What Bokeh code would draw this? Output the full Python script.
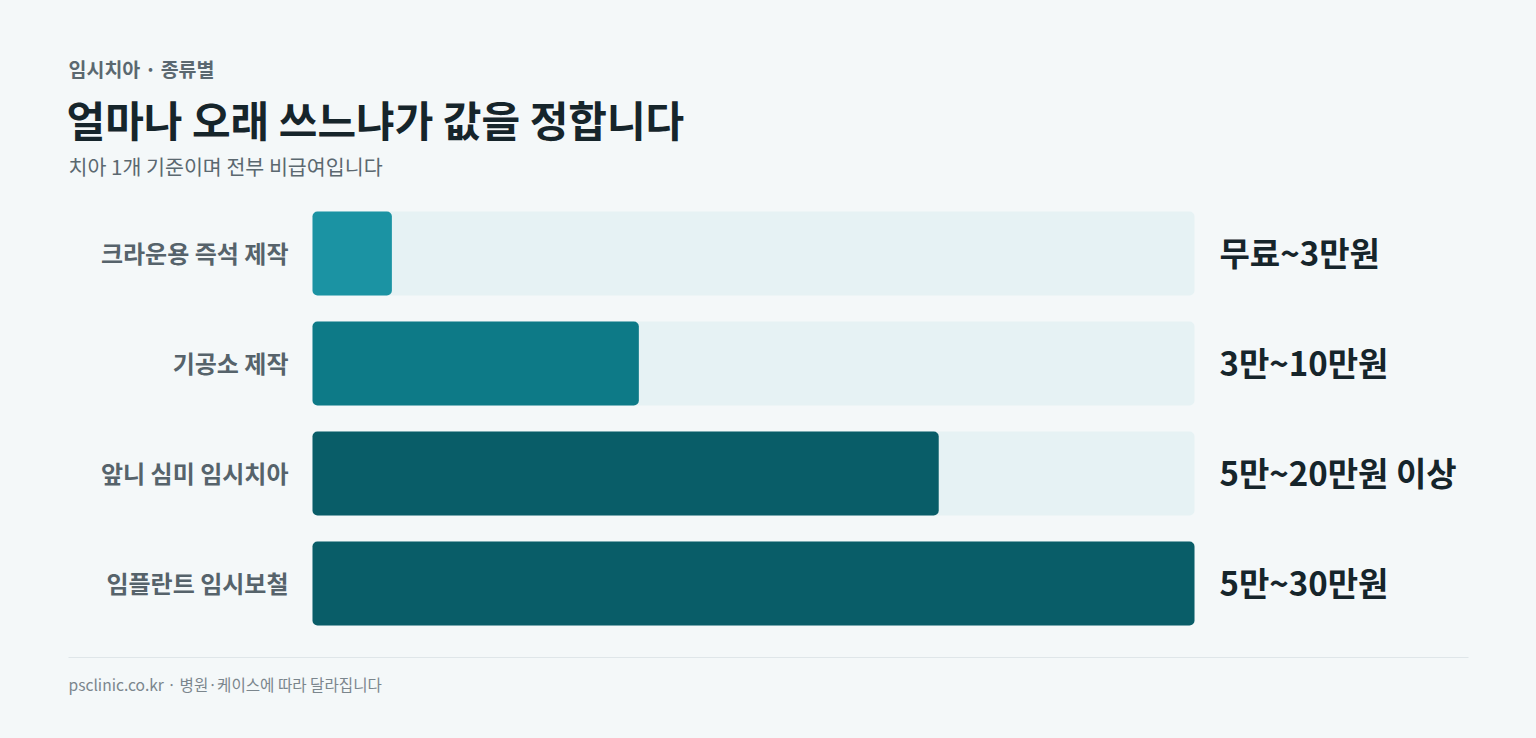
from bokeh.plotting import figure
from bokeh.layouts import column
from bokeh.models import Range1d, FactorRange, ColumnDataSource
from bokeh.core.properties import value
from bokeh.embed import file_html
from bokeh.resources import INLINE

# ---- data ----
categories = ["크라운용 즉석 제작", "기공소 제작", "앞니 심미 임시치아", "임플란트 임시보철"]
rel_cost = [9, 37, 71, 100]          # relative bar length (% of max)
price_labels = ["무료~3만원", "3만~10만원", "5만~20만원 이상", "5만~30만원"]
bar_colors = ["#1b93a3", "#0d7a87", "#095d68", "#095d68"]

kicker = "임시치아 · 종류별"
title = "얼마나 오래 쓰느냐가 값을 정합니다"
subtitle = "치아 1개 기준이며 전부 비급여입니다"
footer = "psclinic.co.kr · 병원·케이스에 따라 달라집니다"

BG = "#f4f8f9"
FONT = "Noto Sans CJK KR"
W = 1520

def base_fig(h, xr, yr):
    f = figure(width=W, height=h, x_range=xr, y_range=yr, output_backend="svg",
               toolbar_location=None, min_border=0)
    f.background_fill_color = BG
    f.border_fill_color = BG
    f.outline_line_color = None
    f.grid.visible = False
    f.axis.visible = False
    return f

# ---- header (page coordinates) ----
hdr = base_fig(190, Range1d(8, 1528), Range1d(198, 8))
hdr.text(x=[68], y=[68], text=[kicker], text_font=value(FONT), text_font_size="19.5px",
         text_font_style="bold", text_color="#5b6870", text_baseline="middle")
hdr.text(x=[66], y=[118], text=[title], text_font=value(FONT), text_font_size="42px",
         text_font_style="bold", text_color="#16252b", text_baseline="middle")
hdr.text(x=[68], y=[165], text=[subtitle], text_font=value(FONT), text_font_size="20.6px",
         text_color="#5b6870", text_baseline="middle")

# ---- main bar chart ----
track_max = max(rel_cost)
px_per_unit = 882.0 / track_max
x_start = -(312 - 8) / px_per_unit
x_end = (1528 - 312) / px_per_unit
main = base_fig(440, Range1d(x_start, x_end),
                FactorRange(factors=categories[::-1], range_padding=0))

src = ColumnDataSource(dict(cat=categories, val=rel_cost, full=[track_max] * len(categories),
                            zero=[0] * len(categories), lab=price_labels, col=bar_colors))
main.hbar(y="cat", left=0, right="full", height=84 / 110, source=src,
          fill_color="#e6f2f4", line_color=None, border_radius=5)
main.hbar(y="cat", left=0, right="val", height=84 / 110, source=src,
          fill_color="col", line_color=None, border_radius=5)
main.text(x="zero", y="cat", text="cat", source=src, x_offset=-24, y_offset=-1,
          text_font=value(FONT), text_font_size="24px", text_font_style="bold",
          text_color="#56636b", text_align="right", text_baseline="middle")
main.text(x="full", y="cat", text="lab", source=src, x_offset=25, y_offset=-2,
          text_font=value(FONT), text_font_size="33px", text_font_style="bold",
          text_color="#16252b", text_baseline="middle")

# ---- footer ----
ftr = base_fig(92, Range1d(8, 1528), Range1d(730, 638))
ftr.segment(x0=[68], x1=[1468], y0=[657], y1=[657], line_color="#dfe6e9", line_width=1)
ftr.text(x=[68], y=[683], text=[footer], text_font=value(FONT), text_font_size="15.6px",
         text_color="#7b868d", text_baseline="middle")

layout = column(hdr, main, ftr, spacing=0)
html = file_html(layout, INLINE)
html = html.replace("</head>", "<style>body{margin:8px;background:%s;}</style></head>" % BG, 1)
open("out.html", "w").write(html)
